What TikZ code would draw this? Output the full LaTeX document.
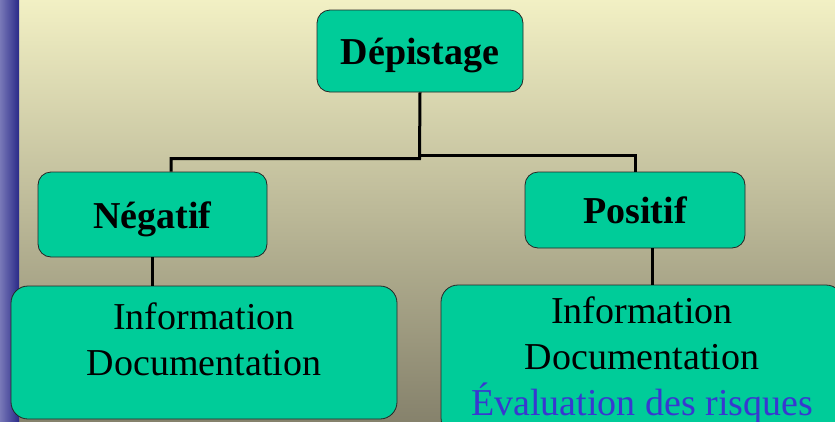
\documentclass[tikz,border=0pt]{standalone}
\usepackage{fontspec}
\setmainfont{Liberation Serif}
\usepackage{tikz}

\definecolor{boxgreen}{HTML}{00CC99}
\definecolor{bgtop}{HTML}{F2F0C4}
\definecolor{bgbottom}{HTML}{86826C}
\definecolor{barlight}{HTML}{7878B8}
\definecolor{bardark}{HTML}{2A2A88}
\definecolor{riskblue}{HTML}{3838D0}

\tikzset{
  box/.style={draw=black!85, line width=0.8pt, fill=boxgreen, rounded corners=13pt,
    inner sep=0pt, font=\fontsize{38}{46}\selectfont},
  head/.style={box, font=\fontsize{38}{46}\selectfont\bfseries, text height=28pt, text depth=2pt},
  info/.style={box, rounded corners=17pt, align=center},
  link/.style={line width=3pt},
}

\begin{document}
\begin{tikzpicture}[x=1pt,y=-1pt]
% Drawing background
\useasboundingbox (0,0) rectangle (835,421);
\clip (0,0) rectangle (835,421);
\shade[top color=bgtop, bottom color=bgbottom] (0,0) rectangle (835,421);
\shade[left color=barlight, right color=bardark] (0,0) rectangle (19,421);

% Drawing boxes
\node[head, minimum width=206pt, minimum height=82pt] (dep) at (420,51) {Dépistage};
\node[head, minimum width=229pt, minimum height=85pt, text depth=0pt] (neg) at (152.5,214.5) {Négatif};
\node[head, minimum width=220pt, minimum height=76pt] (pos) at (635,210) {Positif};
\node[info, minimum width=386pt, minimum height=133pt, text height=72pt, text depth=27pt]
  (infoneg) at (204,352.5) {Information\\Documentation};
\node[info, minimum width=402pt, minimum height=150pt, text height=118pt, text depth=8pt]
  (infopos) at (642,360) {Information\\Documentation\\\textcolor{riskblue}{Évaluation des risques}};

% Drawing links
\coordinate (forkL) at (419.5,158.5);
\coordinate (forkR) at (419.5,155.5);
\draw[link] (dep.south) -- (forkL) -| ([xshift=18.5pt]neg.north);
\draw[link] (forkR) -| (pos.north);
\draw[link] (neg.south) -- (neg.south |- infoneg.north);
\draw[link] ([xshift=17pt]pos.south) -- ([xshift=17pt]pos.south |- infopos.north);
\end{tikzpicture}
\end{document}
